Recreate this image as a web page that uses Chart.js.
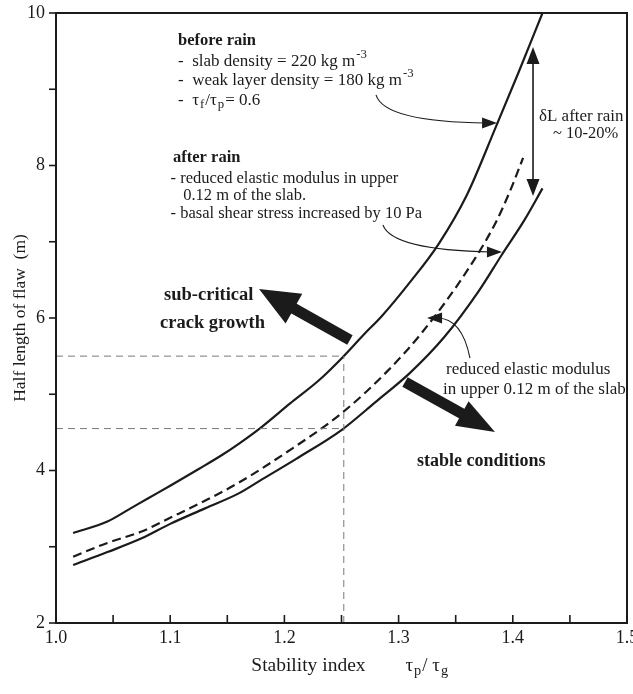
<!DOCTYPE html>
<html>
<head>
<meta charset="utf-8">
<script src="https://cdn.jsdelivr.net/npm/chart.js@4.4.1/dist/chart.umd.min.js"></script>
<style>
  html, body { margin: 0; padding: 0; background: #fff; }
</style>
</head>
<body>
<canvas id="flawChart" width="633" height="694"></canvas>
<script>
// ── Data ──────────────────────────────────────────────────────────────────────

const X_TICKS = [1.0, 1.1, 1.2, 1.3, 1.4, 1.5];
const Y_TICKS = [2, 4, 6, 8, 10];

// before rain (upper solid)
const beforeX = [1.015, 1.045, 1.065, 1.08, 1.10, 1.125, 1.145, 1.16, 1.18, 1.205, 1.23, 1.25, 1.27, 1.285, 1.31, 1.335, 1.36, 1.385, 1.405, 1.426];
const beforeY = [3.18, 3.33, 3.50, 3.63, 3.80, 4.02, 4.20, 4.35, 4.57, 4.88, 5.18, 5.47, 5.79, 6.02, 6.47, 6.97, 7.62, 8.50, 9.22, 10.0];

// after rain (dashed)
const afterX = [1.015, 1.045, 1.075, 1.10, 1.13, 1.16, 1.20, 1.25, 1.29, 1.32, 1.36, 1.385, 1.398, 1.409];
const afterY = [2.87, 3.05, 3.20, 3.38, 3.60, 3.84, 4.22, 4.75, 5.30, 5.80, 6.62, 7.25, 7.68, 8.10];

// reduced elastic modulus only (lower solid)
const modulusX = [1.015, 1.045, 1.075, 1.10, 1.13, 1.16, 1.18, 1.21, 1.25, 1.28, 1.31, 1.34, 1.37, 1.39, 1.41, 1.426];
const modulusY = [2.76, 2.93, 3.11, 3.30, 3.50, 3.70, 3.88, 4.15, 4.53, 4.90, 5.28, 5.75, 6.35, 6.82, 7.28, 7.70];

// dashed guide lines at stability index 1.25
const GUIDE_X = 1.252;
const guideUpper = 5.5;
const guideLower = 4.55;

const SERIF = '"Liberation Serif", "DejaVu Serif", serif';
const INK = '#1b1b1b';

const pts = (xs, ys) => xs.map((x, i) => ({ x, y: ys[i] }));

// ── Annotations (data coordinates) ────────────────────────────────────────────

const notes = [
  { at: [1.1068, 9.580], font: 'bold 16.5px', parts: [{ t: 'before rain' }] },
  { at: [1.1068, 9.311], font: '17px', parts: [{ t: '-  slab density = 220 kg m' }, { t: '-3', sup: true }] },
  { at: [1.1068, 9.056], font: '17px', parts: [{ t: '-  weak layer density = 180 kg m' }, { t: '-3', sup: true }] },
  { at: [1.1068, 8.800], font: '17px', parts: [{ t: '-  τ' }, { t: 'f', sub: true }, { t: '/τ' }, { t: 'p', sub: true }, { t: '= 0.6' }] },
  { at: [1.1025, 8.042], font: 'bold 16.5px', parts: [{ t: 'after rain' }] },
  { at: [1.1003, 7.774], font: '16.5px', parts: [{ t: '- reduced elastic modulus in upper' }] },
  { at: [1.1114, 7.548], font: '16.5px', parts: [{ t: '0.12 m of the slab.' }] },
  { at: [1.1003, 7.307], font: '16.5px', parts: [{ t: '- basal shear stress increased by 10 Pa' }] },
  { at: [1.4229, 8.584], font: '17px', parts: [{ t: 'δL after rain' }] },
  { at: [1.4352, 8.361], font: '16.5px', parts: [{ t: '~ 10-20%' }] },
  { at: [1.0946, 6.236], font: 'bold 18.5px', parts: [{ t: 'sub-critical' }] },
  { at: [1.0911, 5.869], font: 'bold 18.5px', parts: [{ t: 'crack growth' }] },
  { at: [1.3415, 5.262], font: '17px', parts: [{ t: 'reduced elastic modulus' }] },
  { at: [1.3389, 5.003], font: '17px', parts: [{ t: 'in upper 0.12 m of the slab' }] },
  { at: [1.3161, 4.059], font: 'bold 18px', parts: [{ t: 'stable conditions' }] },
];

const bigArrows = [
  { from: [1.2574, 5.711], to: [1.1778, 6.380], head: 40, half: 17 },
  { from: [1.3056, 5.161], to: [1.3844, 4.505], head: 38, half: 14 },
];

const thinArrows = [
  { from: [1.2802, 8.925], ctrl: [1.2872, 8.570], to: [1.3862, 8.557] },
  { from: [1.2863, 7.220], ctrl: [1.2942, 6.892], to: [1.3905, 6.866] },
  { from: [1.3625, 5.475], ctrl: [1.3555, 6.000], to: [1.3249, 6.000] },
];

const deltaL = { x: 1.4177, top: 9.554, bottom: 7.600 };

// ── Drawing helpers ───────────────────────────────────────────────────────────

function drawHead(ctx, x0, y0, x1, y1, len, half) {
  const a = Math.atan2(y1 - y0, x1 - x0);
  ctx.beginPath();
  ctx.moveTo(x1, y1);
  ctx.lineTo(x1 - len * Math.cos(a) + half * Math.sin(a), y1 - len * Math.sin(a) - half * Math.cos(a));
  ctx.lineTo(x1 - len * Math.cos(a) - half * Math.sin(a), y1 - len * Math.sin(a) + half * Math.cos(a));
  ctx.closePath();
  ctx.fill();
}

function drawRich(ctx, x, y, font, parts) {
  let cx = x;
  const size = parseFloat(font.match(/([\d.]+)px/)[1]);
  for (const p of parts) {
    if (p.sup || p.sub) {
      ctx.font = `${(size * 0.75).toFixed(1)}px ${SERIF}`;
      ctx.fillText(p.t, cx, p.sup ? y - size * 0.45 : y + size * 0.2);
    } else {
      ctx.font = `${font} ${SERIF}`;
      ctx.fillText(p.t, cx, y);
    }
    cx += ctx.measureText(p.t).width + (p.sup ? 0 : 1);
  }
}

const annotationPlugin = {
  id: 'annotations',
  afterDraw(chart) {
    const { ctx, chartArea: area, scales: { x: xs, y: ys } } = chart;
    const P = ([xv, yv]) => [xs.getPixelForValue(xv), ys.getPixelForValue(yv)];
    ctx.save();

    // frame (top and right sides)
    ctx.strokeStyle = INK;
    ctx.lineWidth = 2;
    ctx.strokeRect(area.left, area.top, area.right - area.left, area.bottom - area.top);

    // tick marks
    ctx.lineWidth = 1.6;
    for (let v = 1.0; v <= 1.5001; v += 0.05) {
      const px = xs.getPixelForValue(v);
      ctx.beginPath(); ctx.moveTo(px, area.bottom); ctx.lineTo(px, area.bottom - 8); ctx.stroke();
    }
    for (let v = 2; v <= 10; v++) {
      const py = ys.getPixelForValue(v);
      ctx.beginPath(); ctx.moveTo(area.left - 7, py); ctx.lineTo(area.left + 1, py); ctx.stroke();
    }

    // x axis title
    ctx.fillStyle = INK;
    ctx.textBaseline = 'alphabetic';
    ctx.textAlign = 'left';
    ctx.font = `19.5px ${SERIF}`;
    ctx.fillText('Stability index', xs.getPixelForValue(1.171), area.bottom + 48);
    drawRich(ctx, xs.getPixelForValue(1.306), area.bottom + 48, '19px', [
      { t: 'τ' }, { t: 'p', sub: true }, { t: '/ τ' }, { t: 'g', sub: true },
    ]);

    // notes
    for (const n of notes) {
      const [px, py] = P(n.at);
      drawRich(ctx, px, py, n.font, n.parts);
    }

    // big block arrows
    for (const a of bigArrows) {
      const [x0, y0] = P(a.from);
      const [x1, y1] = P(a.to);
      const ang = Math.atan2(y1 - y0, x1 - x0);
      ctx.lineWidth = 11;
      ctx.lineCap = 'butt';
      ctx.beginPath();
      ctx.moveTo(x0, y0);
      ctx.lineTo(x1 - (a.head - 6) * Math.cos(ang), y1 - (a.head - 6) * Math.sin(ang));
      ctx.stroke();
      drawHead(ctx, x0, y0, x1, y1, a.head, a.half);
    }

    // thin curved arrows
    ctx.lineWidth = 1.1;
    for (const a of thinArrows) {
      const [x0, y0] = P(a.from);
      const [cx, cy] = P(a.ctrl);
      const [x1, y1] = P(a.to);
      ctx.beginPath();
      ctx.moveTo(x0, y0);
      ctx.quadraticCurveTo(cx, cy, x1 - 10 * Math.sign(x1 - cx), y1);
      ctx.stroke();
      drawHead(ctx, cx, y1, x1, y1, 15, 5.5);
    }

    // δL double arrow
    const dx = xs.getPixelForValue(deltaL.x);
    const dt = ys.getPixelForValue(deltaL.top);
    const db = ys.getPixelForValue(deltaL.bottom);
    ctx.lineWidth = 1.6;
    ctx.beginPath(); ctx.moveTo(dx, dt + 12); ctx.lineTo(dx, db - 12); ctx.stroke();
    drawHead(ctx, dx, db, dx, dt, 17, 6.5);
    drawHead(ctx, dx, dt, dx, db, 17, 6.5);

    ctx.restore();
  },
};

// ── Chart ─────────────────────────────────────────────────────────────────────

const curveStyle = {
  borderColor: INK,
  borderWidth: 2.2,
  pointRadius: 0,
  cubicInterpolationMode: 'monotone',
  fill: false,
};

const guideStyle = {
  borderColor: '#7a7a7a',
  borderWidth: 1,
  borderDash: [7, 5],
  pointRadius: 0,
  fill: false,
};

new Chart(document.getElementById('flawChart').getContext('2d'), {
  type: 'line',
  data: {
    datasets: [
      { ...guideStyle, label: 'guide upper', data: [{ x: 1.0, y: guideUpper }, { x: GUIDE_X, y: guideUpper }] },
      { ...guideStyle, label: 'guide lower', data: [{ x: 1.0, y: guideLower }, { x: GUIDE_X, y: guideLower }] },
      { ...guideStyle, label: 'guide vertical', data: [{ x: GUIDE_X, y: 2 }, { x: GUIDE_X, y: guideUpper }] },
      { ...curveStyle, label: 'before rain', data: pts(beforeX, beforeY) },
      { ...curveStyle, label: 'after rain', data: pts(afterX, afterY), borderDash: [9, 5] },
      { ...curveStyle, label: 'reduced elastic modulus', data: pts(modulusX, modulusY) },
    ],
  },
  plugins: [annotationPlugin],
  options: {
    responsive: false,
    animation: false,
    layout: { padding: { top: 13, right: 6, left: 0, bottom: 0 } },
    plugins: { legend: { display: false }, tooltip: { enabled: false } },
    scales: {
      x: {
        type: 'linear',
        min: 1.0,
        max: 1.5,
        afterFit: s => { s.height = 71; s.paddingLeft = 0; s.paddingRight = 0; },
        afterBuildTicks: s => { s.ticks = X_TICKS.map(v => ({ value: v })); },
        ticks: {
          color: INK,
          font: { family: SERIF, size: 18 },
          padding: 4,
          maxRotation: 0,
          callback: v => v.toFixed(1),
        },
        grid: { display: false, drawTicks: false },
        border: { display: true, color: INK, width: 2 },
      },
      y: {
        min: 2,
        max: 10,
        afterFit: s => { s.width = 56; s.paddingTop = 0; s.paddingBottom = 0; },
        afterBuildTicks: s => { s.ticks = Y_TICKS.map(v => ({ value: v })); },
        ticks: {
          color: INK,
          font: { family: SERIF, size: 18 },
          padding: 11,
        },
        grid: { display: false, drawTicks: false },
        border: { display: true, color: INK, width: 2 },
        title: {
          display: true,
          text: 'Half length of flaw  (m)',
          color: INK,
          font: { family: SERIF, size: 17.5 },
          padding: { top: 10, bottom: 0 },
        },
      },
    },
  },
});
</script>
</body>
</html>
